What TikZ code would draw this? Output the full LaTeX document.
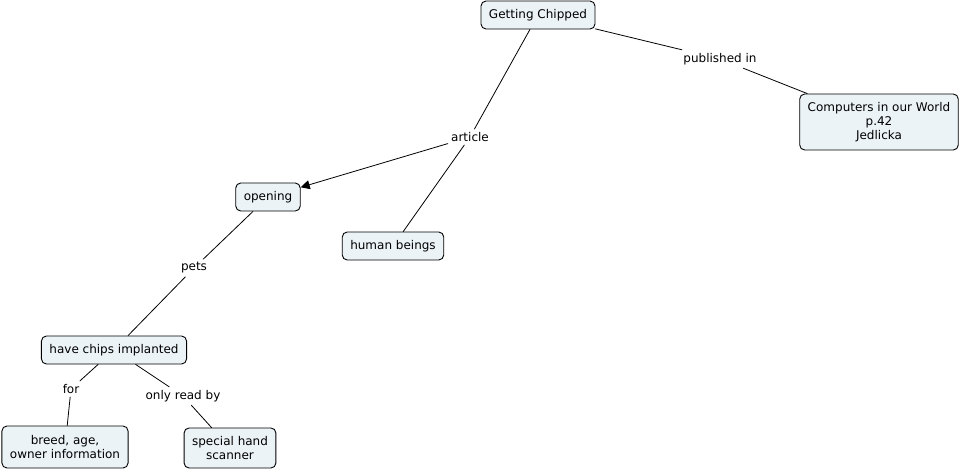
\documentclass[tikz,border=0pt]{standalone}
\usepackage{fontspec}
\setmainfont{DejaVu Sans}
\usetikzlibrary{arrows.meta,positioning}
\definecolor{fg}{RGB}{0,0,0}
\definecolor{conceptfill}{RGB}{236,243,246}
\tikzset{
  every picture/.style={fg, line width=0.8pt, line cap=round, line join=round,
    >={Triangle[length=9pt,width=9pt]}},
  every node/.style={font=\fontsize{12}{14}\selectfont},
  % Begriffe
  concept/.style={draw, fill=conceptfill, rounded corners=5pt, line width=0.9pt,
    inner xsep=8pt, inner ysep=0pt, minimum height=28pt, align=center},
  % Verbindungswoerter
  linkword/.style={inner sep=3pt, align=center},
  link/.style={line width=0.8pt},
}
\begin{document}
\begin{tikzpicture}[x=1pt, y=-1pt]
  \useasboundingbox (0,0) rectangle (962,472);
  % ---------- Begriffe ----------
  \node[concept] (chipped) at (538,15) {Getting Chipped};
  \node[concept, minimum height=56pt] (world) at (879,122) {Computers in our World\\p.42\\Jedlicka};
  \node[concept] (opening) at (268,197) {opening};
  \node[concept] (humans) at (393,246) {human beings};
  \node[concept] (implant) at (114,350) {have chips implanted};
  \node[concept, minimum height=42pt] (breed) at (65,447) {breed, age,\\owner information};
  \node[concept, minimum height=40pt] (scanner) at (230,448) {special hand\\scanner};
  % ---------- Verbindungen ----------
  \node[linkword] (pub) at (720,59) {published in};
  \node[linkword] (article) at (470,137) {article};
  \node[linkword] (pets) at (194,268) {pets};
  \node[linkword] (for) at (71,389) {for};
  \node[linkword] (readby) at (183,396) {only read by};
  \draw[link] (chipped) -- (pub) -- (world);
  \draw[link] (chipped) -- (article) -- (humans);
  \draw[link, ->] (article) -- (opening);
  \draw[link] (opening) -- (pets) -- (implant);
  \draw[link] (implant) -- (for) -- (breed);
  \draw[link] (implant) -- (readby) -- (scanner);
\end{tikzpicture}
\end{document}
